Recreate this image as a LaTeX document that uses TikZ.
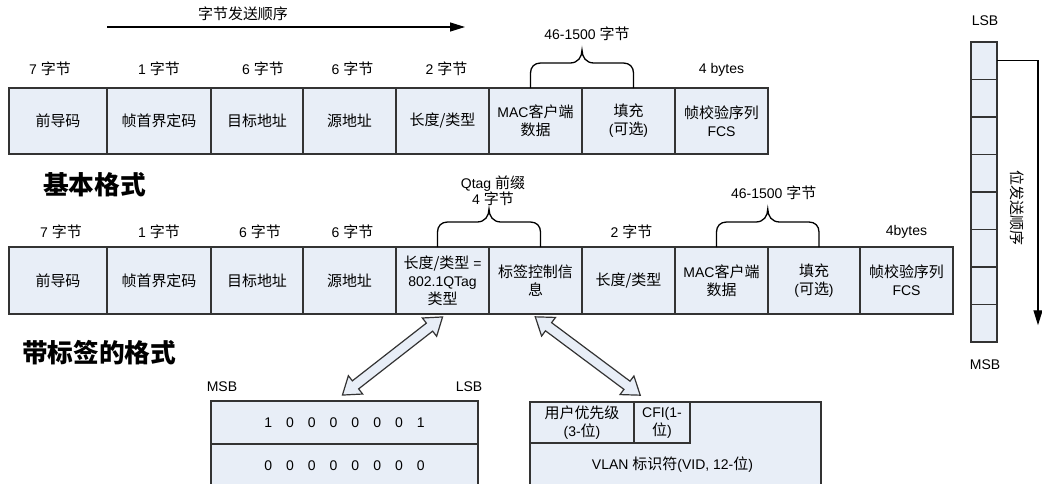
\documentclass[tikz,border=0pt]{standalone}
\usepackage{fontspec}
\setmainfont{Liberation Sans}
\newfontfamily\cjk{Noto Sans CJK SC}[Scale=1.07]
\usepackage{tikz}
\usetikzlibrary{arrows.meta,positioning,calc,shapes.arrows}
\definecolor{fieldblue}{HTML}{E8EEF7}
\definecolor{edgegray}{HTML}{333333}

% brace over two fields: left foot, right foot, name of the tip
\newcommand{\sizebrace}[3]{%
  \draw[bracepath] (#1) -- ++(0,-15)
    .. controls +(0,-6) and +(-6,0) .. ++(10,-10)
    -- ($(#1)!0.5!(#2)+(-12,-25)$)
    .. controls +(8,0) and +(0,7) .. ($(#1)!0.5!(#2)+(0,-38)$) coordinate (#3)
    .. controls +(0,7) and +(-8,0) .. ($(#1)!0.5!(#2)+(12,-25)$)
    -- ($(#2)+(-10,-25)$)
    .. controls +(6,0) and +(0,-6) .. ($(#2)+(0,-15)$) -- (#2);}

\begin{document}
\begin{tikzpicture}[
  x=1pt, y=-1pt,
  font=\fontsize{14}{18}\selectfont,
  >={Triangle[length=15pt,width=9pt]},
  field/.style={rectangle, draw=edgegray, fill=fieldblue, line width=1.7pt,
                outer sep=0pt, inner sep=2pt, minimum height=66pt, align=center},
  bitcell/.style={rectangle, draw=edgegray, fill=fieldblue, line width=1.7pt,
                  outer sep=0pt, minimum width=26pt, minimum height=37.5pt},
  sizelbl/.style={inner sep=1pt, align=center},
  heading/.style={font=\fontsize{24}{28}\selectfont\cjk\bfseries, anchor=west,
                  inner sep=0pt},
  flow/.style={->, draw=black, line width=1.3pt},
  bracepath/.style={draw=black, line width=1.3pt},
  link/.style={double arrow, draw=edgegray, fill=fieldblue, line width=1.2pt,
               inner sep=0pt, inner ysep=4.5pt, double arrow head extend=6.5pt,
               double arrow tip angle=70}
]
\useasboundingbox (0,0) rectangle (1042,483);
\clip (0,0) rectangle (1042,483);

% ---------- byte order ----------
\coordinate (ord0) at (107,27);
\coordinate (ord1) at (465,27);
\draw[flow] (ord0) -- (ord1);
\node[sizelbl] (ordlbl) at ($(ord0)+(136,-13)$) {\cjk 字节发送顺序};

% ---------- basic frame ----------
\node[field, minimum width=98pt, anchor=north west] (pre1) at (9,88) {\cjk 前导码};
\node[field, minimum width=104pt, right=0pt of pre1] (sfd1) {\cjk 帧首界定码};
\node[field, minimum width=92pt, right=0pt of sfd1] (dst1) {\cjk 目标地址};
\node[field, minimum width=93pt, right=0pt of dst1] (src1) {\cjk 源地址};
\node[field, minimum width=93pt, right=0pt of src1] (len1) {\cjk 长度/类型};
\node[field, minimum width=93pt, right=0pt of len1] (mac1)
  {MAC{\cjk 客户端}\\{\cjk 数据}};
\node[field, minimum width=93pt, right=0pt of mac1] (pad1)
  {{\cjk 填充}\\({\cjk 可选})};
\node[field, minimum width=93pt, right=0pt of pad1] (fcs1)
  {{\cjk 帧校验序列}\\FCS};

\node[sizelbl] (n7a) at ($(pre1.north)+(-8,-19)$) {7 {\cjk 字节}};
\node[sizelbl] (n1a) at ($(sfd1.north)+(0,-19)$) {1 {\cjk 字节}};
\node[sizelbl] (n6a) at ($(dst1.north)+(6,-19)$) {6 {\cjk 字节}};
\node[sizelbl] (n6b) at ($(src1.north)+(3,-19)$) {6 {\cjk 字节}};
\node[sizelbl] (n2a) at ($(len1.north)+(4,-19)$) {2 {\cjk 字节}};
\node[sizelbl] (n4a) at ($(fcs1.north)+(0,-18)$) {4 bytes};

\coordinate (d1l) at ($(mac1.north)+(-5,0)$);
\coordinate (d1r) at ($(pad1.north)+(5,0)$);
\sizebrace{d1l}{d1r}{d1tip}
\node[sizelbl] (d1lbl) at ($(d1tip)+(5,-16)$) {46-1500 {\cjk 字节}};

\node[heading] (basic) at ($(pre1.south west)+(34,31)$) {基本格式};

% ---------- tagged frame ----------
\node[field, minimum width=98pt, minimum height=67pt, anchor=north west] (pre2)
  at (9,247) {\cjk 前导码};
\node[field, minimum width=104pt, minimum height=67pt, right=0pt of pre2] (sfd2)
  {\cjk 帧首界定码};
\node[field, minimum width=92pt, minimum height=67pt, right=0pt of sfd2] (dst2)
  {\cjk 目标地址};
\node[field, minimum width=93pt, minimum height=67pt, right=0pt of dst2] (src2)
  {\cjk 源地址};
\node[field, minimum width=93pt, minimum height=67pt, right=0pt of src2] (qtype)
  {{\cjk 长度/类型} =\\802.1QTag\\{\cjk 类型}};
\node[field, minimum width=93pt, minimum height=67pt, right=0pt of qtype] (tci)
  {{\cjk 标签控制信}\\{\cjk 息}};
\node[field, minimum width=93pt, minimum height=67pt, right=0pt of tci] (len2)
  {\cjk 长度/类型};
\node[field, minimum width=93pt, minimum height=67pt, right=0pt of len2] (mac2)
  {MAC{\cjk 客户端}\\{\cjk 数据}};
\node[field, minimum width=92pt, minimum height=67pt, right=0pt of mac2] (pad2)
  {{\cjk 填充}\\({\cjk 可选})};
\node[field, minimum width=93pt, minimum height=67pt, right=0pt of pad2] (fcs2)
  {{\cjk 帧校验序列}\\FCS};

\node[sizelbl] (n7b) at ($(pre2.north)+(3,-15)$) {7 {\cjk 字节}};
\node[sizelbl] (n1b) at ($(sfd2.north)+(0,-15)$) {1 {\cjk 字节}};
\node[sizelbl] (n6c) at ($(dst2.north)+(3,-15)$) {6 {\cjk 字节}};
\node[sizelbl] (n6d) at ($(src2.north)+(3,-15)$) {6 {\cjk 字节}};
\node[sizelbl] (n2b) at ($(len2.north)+(3,-15)$) {2 {\cjk 字节}};
\node[sizelbl] (n4b) at ($(fcs2.north)+(0,-15)$) {4bytes};

\coordinate (qtl) at ($(qtype.north)+(-5,0)$);
\coordinate (qtr) at ($(tci.north)+(5,0)$);
\sizebrace{qtl}{qtr}{qtip}
\node[sizelbl, font=\fontsize{14}{16}\selectfont] (qlbl) at ($(qtip)+(4,-18)$)
  {Qtag {\cjk 前缀}\\4 {\cjk 字节}};

\coordinate (d2l) at ($(mac2.north)+(-5,0)$);
\coordinate (d2r) at ($(pad2.north)+(5,0)$);
\sizebrace{d2l}{d2r}{d2tip}
\node[sizelbl] (d2lbl) at ($(d2tip)+(6,-16)$) {46-1500 {\cjk 字节}};

\node[heading] (tagged) at ($(pre2.south west)+(13,39)$) {带标签的格式};

% ---------- bit order column ----------
\foreach \i in {1,...,8}
  \node[bitcell, anchor=north west] (bit\i) at (971,{42+37.5*(\i-1)}) {};
\node[sizelbl] (lsbcol) at ($(bit1.north)+(1,-21)$) {LSB};
\node[sizelbl] (msbcol) at ($(bit8.south)+(1,23)$) {MSB};
\coordinate (bitend) at ($(bit8.east)+(41,2)$);
\draw[flow] (bit1.east) -| (bitend);
\node[sizelbl, rotate=-90] (bitlbl) at ($(bit1.east)!0.5!(bit8.east)+(20,16)$)
  {\cjk 位发送顺序};

% ---------- type value ----------
\node[field, minimum width=267pt, minimum height=43pt, anchor=north west] (bitsA)
  at (211,401) {1\quad 0\quad 0\quad 0\quad 0\quad 0\quad 0\quad 1};
\node[field, minimum width=267pt, minimum height=43pt, below=0pt of bitsA] (bitsB)
  {0\quad 0\quad 0\quad 0\quad 0\quad 0\quad 0\quad 0};
\node[sizelbl] (msbA) at ($(bitsA.north west)+(11,-14)$) {MSB};
\node[sizelbl] (lsbA) at ($(bitsA.north east)+(-9,-14)$) {LSB};

% ---------- tag control info ----------
\node[field, minimum width=291pt, minimum height=86pt, anchor=north west] (tcibox)
  at (530,402) {};
\node[field, minimum width=104pt, minimum height=41pt, anchor=north west] (pri)
  at (tcibox.north west) {{\cjk 用户优先级}\\(3-{\cjk 位})};
\node[field, minimum width=56pt, minimum height=41pt, right=0pt of pri] (cfi)
  {CFI(1-\\{\cjk 位})};
\node[sizelbl] (vid) at ($(tcibox.north)+(-3,63)$)
  {VLAN {\cjk 标识符}(VID, 12-{\cjk 位})};

% ---------- links ----------
\coordinate (l1a) at ($(bitsA.north)+(-2,-6)$);
\coordinate (l1b) at ($(qtype.south)+(0,3)$);
\path (l1a) -- (l1b) node[link, midway, sloped, minimum height=127pt] (link1) {};
\coordinate (l2a) at ($(tci.south)+(0,3)$);
\coordinate (l2b) at ($(pri.north east)+(6,-7)$);
\path (l2a) -- (l2b) node[link, midway, sloped, minimum height=131pt] (link2) {};

\end{tikzpicture}
\end{document}
